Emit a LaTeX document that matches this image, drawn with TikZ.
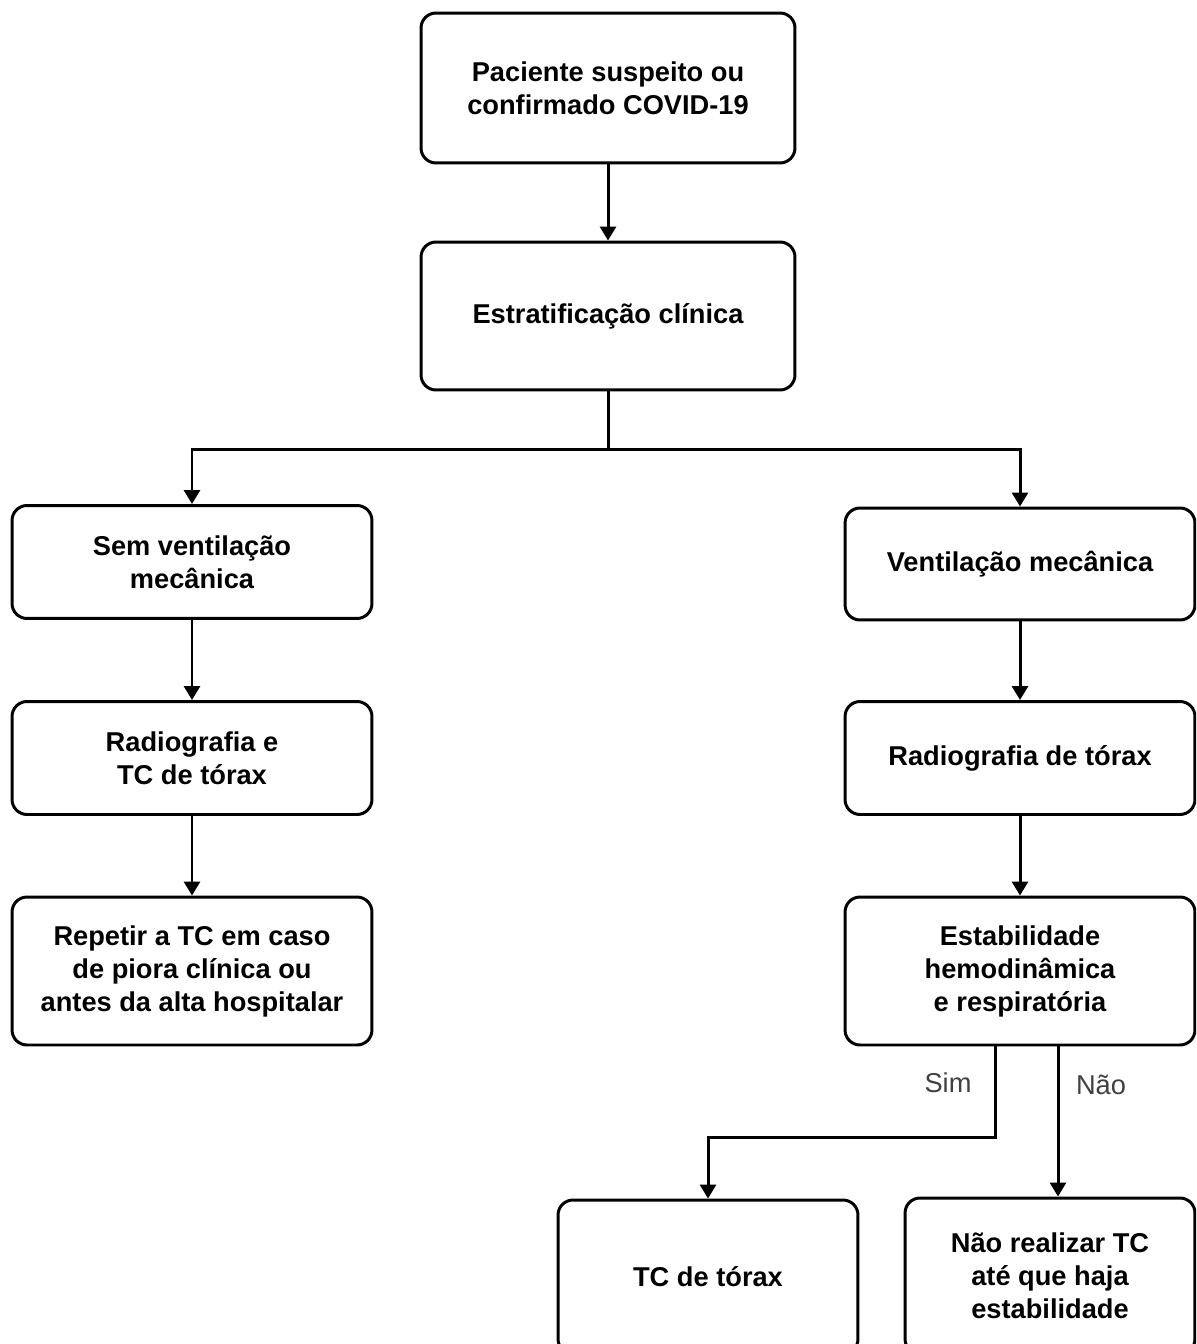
\documentclass[tikz,border=0pt]{standalone}
\usepackage{fontspec}
\setmainfont{Liberation Sans}
\usepackage{tikz}
\usetikzlibrary{arrows.meta}
\tikzset{
    stepbox/.style={draw, line width=1.7pt, rounded corners=0.3cm, align=center,
        font=\fontsize{15.5}{18.8}\selectfont\bfseries, inner sep=0pt},
    arr/.style={line width=1.7pt, -{Triangle[length=0.28cm, width=0.32cm]}},
    answer/.style={font=\fontsize{15.5}{18}\selectfont, text=black!75}
}

\begin{document}
\begin{tikzpicture}[x=0.02cm, y=-0.02cm]
                \clip (0,0) rectangle (1196,1344);
                \fill[white] (0,0) rectangle (1196,1344);

                % Central column
                \node[stepbox, minimum width=7.48cm, minimum height=3.0cm] (paciente) at (608,88)
                    {Paciente suspeito ou\\confirmado COVID-19};
                \node[stepbox, minimum width=7.48cm, minimum height=2.96cm] (estrat) at (608,316)
                    {Estratificação clínica};

                % Left column
                \node[stepbox, minimum width=7.2cm, minimum height=2.26cm] (semvent) at (192,562)
                    {Sem ventilação\\mecânica};
                \node[stepbox, minimum width=7.2cm, minimum height=2.26cm] (radiotc) at (192,758)
                    {Radiografia e\\TC de tórax};
                \node[stepbox, minimum width=7.2cm, minimum height=2.96cm] (repetir) at (192,971)
                    {Repetir a TC em caso\\de piora clínica ou\\antes da alta hospitalar};

                % Right column
                \node[stepbox, minimum width=7.0cm, minimum height=2.24cm] (ventmec) at (1020,564)
                    {Ventilação mecânica};
                \node[stepbox, minimum width=7.0cm, minimum height=2.26cm] (radio) at (1020,758)
                    {Radiografia de tórax};
                \node[stepbox, minimum width=7.0cm, minimum height=2.96cm] (estab) at (1020,971)
                    {Estabilidade\\hemodinâmica\\e respiratória};

                % Bottom row
                \node[stepbox, minimum width=6.0cm, minimum height=3.08cm] (tctorax) at (708,1277)
                    {TC de tórax};
                \node[stepbox, minimum width=5.8cm, minimum height=3.12cm] (naorealizar) at (1050,1276)
                    {Não realizar TC\\até que haja\\estabilidade};

                % Arrows
                \draw[arr] (paciente) -- (estrat);
                \draw[arr] (estrat.south) -- ++(0,58) -| (semvent.north);
                \draw[arr] (estrat.south) -- ++(0,58) -| (ventmec.north);
                \draw[arr] (semvent) -- (radiotc);
                \draw[arr] (radiotc) -- (repetir);
                \draw[arr] (ventmec) -- (radio);
                \draw[arr] (radio) -- (estab);
                \draw[arr] ([xshift=-0.5cm]estab.south) -- ++(0,91) -| (tctorax.north);
                \draw[arr] ([xshift=0.76cm]estab.south) -- ([xshift=0.76cm]estab.south |- naorealizar.north);

                % Labels
                \node[answer] (sim) at (948,1083) {Sim};
                \node[answer] (nao) at (1101,1085) {Não};
            \end{tikzpicture}
\end{document}
